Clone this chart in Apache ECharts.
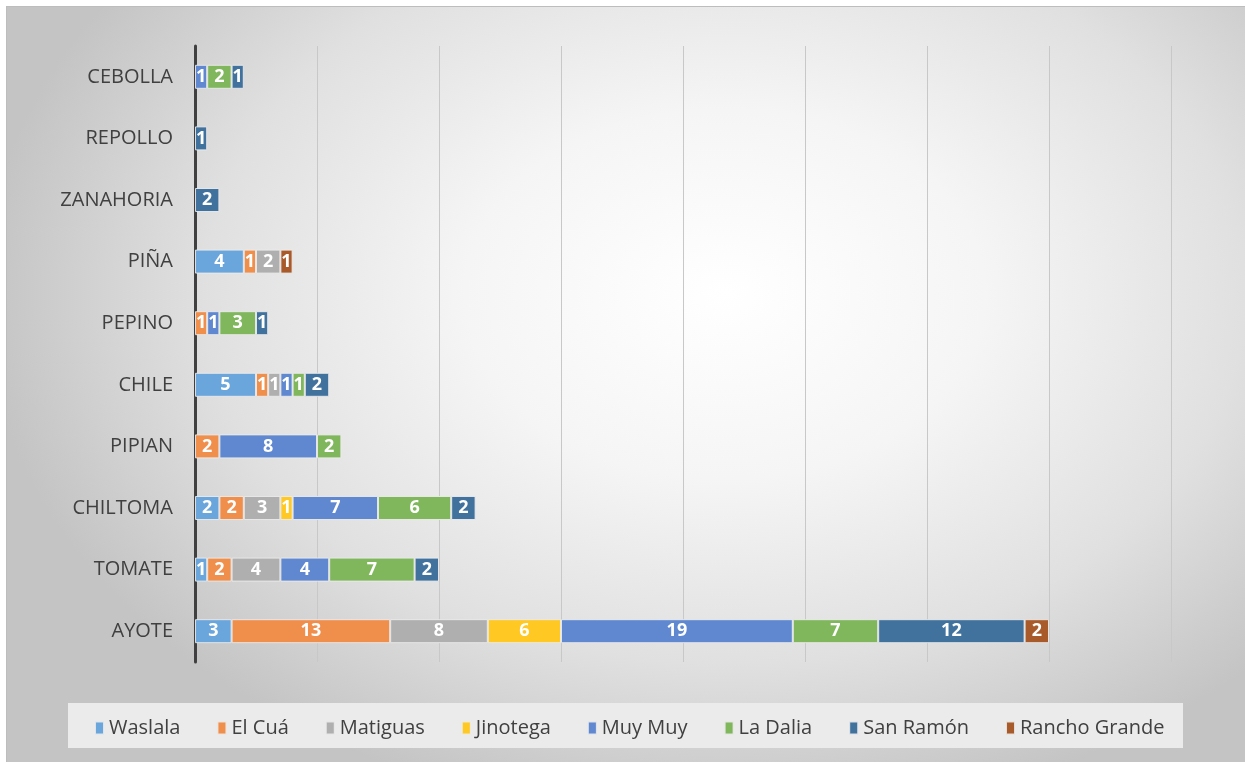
<!DOCTYPE html>
<html>
<head>
<meta charset="utf-8">
<script src="https://cdn.jsdelivr.net/npm/echarts@6/dist/echarts.min.js"></script>
<style>
  html, body { margin: 0; padding: 0; background: #fff; }
  #bg {
    position: absolute; left: 6px; top: 6px; width: 1238px; height: 755px;
    border-top: 1px solid #bdbdbd; border-left: 1px solid #bdbdbd;
    background: radial-gradient(ellipse 60% 70% at 58% 38%, #ffffff 0%, #f5f5f5 35%, #e0e0e0 70%, #c4c4c4 100%);
  }
  #bar { position: absolute; left: 0; top: 0; width: 1245px; height: 762px; }
</style>
</head>
<body>
<div id="bg"></div>
<div id="bar"></div>
<script>
// categorias de abajo hacia arriba
var cultivos = ['AYOTE', 'TOMATE', 'CHILTOMA', 'PIPIAN', 'CHILE', 'PEPINO', 'PIÑA', 'ZANAHORIA', 'REPOLLO', 'CEBOLLA'];

var waslala      = [3, 1, 2, 0, 5, 0, 4, 0, 0, 0];
var elCua        = [13, 2, 2, 2, 1, 1, 1, 0, 0, 0];
var matiguas     = [8, 4, 3, 0, 1, 0, 2, 0, 0, 0];
var jinotega     = [6, 0, 1, 0, 0, 0, 0, 0, 0, 0];
var muyMuy       = [19, 4, 7, 8, 1, 1, 0, 0, 0, 1];
var laDalia      = [7, 7, 6, 2, 1, 3, 0, 0, 0, 2];
var sanRamon     = [12, 2, 2, 0, 2, 1, 0, 2, 1, 1];
var ranchoGrande = [2, 0, 0, 0, 0, 0, 1, 0, 0, 0];

var municipios = ['Waslala', 'El Cuá', 'Matiguas', 'Jinotega', 'Muy Muy', 'La Dalia', 'San Ramón', 'Rancho Grande'];
var valores = [waslala, elCua, matiguas, jinotega, muyMuy, laDalia, sanRamon, ranchoGrande];
var colores = ['#6aa5dc', '#f08f4c', '#afafaf', '#ffc823', '#5f88d0', '#80b75d', '#41729e', '#a95a2a'];

var fuente = 'Open Sans';

var series = municipios.map(function (nombre, i) {
    return {
        name: nombre,
        type: 'bar',
        stack: 'total',
        barWidth: 24,
        itemStyle: { color: colores[i], borderColor: 'rgba(235,235,235,0.9)', borderWidth: 1 },
        label: {
            show: true,
            color: '#fff',
            fontWeight: 'bold',
            fontSize: 18,
            fontFamily: fuente,
            formatter: function (p) { return p.value ? p.value : ''; }
        },
        data: valores[i].map(function (v) { return v ? v : null; })
    };
});

var myChart = echarts.init(document.getElementById('bar'));
myChart.setOption({
    backgroundColor: 'transparent',
    animation: false,
    grid: { left: 195, right: 74, top: 46, bottom: 100 },
    graphic: [{
        type: 'rect',
        shape: { x: 68, y: 703, width: 1115, height: 45 },
        style: { fill: '#ebebeb' },
        z: -1
    }],
    legend: {
        data: municipios,
        left: 89,
        top: 713,
        itemWidth: 9,
        itemHeight: 13,
        itemGap: 36,
        icon: 'rect',
        textStyle: { color: '#404040', fontSize: 20, fontFamily: fuente }
    },
    xAxis: {
        type: 'value',
        min: 0,
        max: 80,
        interval: 10,
        axisLabel: { show: false },
        axisLine: { show: false },
        axisTick: { show: false },
        splitLine: { lineStyle: { color: '#c8c8c8', width: 1 } }
    },
    yAxis: {
        type: 'category',
        data: cultivos,
        axisLine: { lineStyle: { color: '#404040', width: 3 } },
        axisTick: { show: false },
        axisLabel: { color: '#404040', fontSize: 20, fontFamily: fuente, margin: 22 }
    },
    series: series
});
</script>
</body>
</html>
